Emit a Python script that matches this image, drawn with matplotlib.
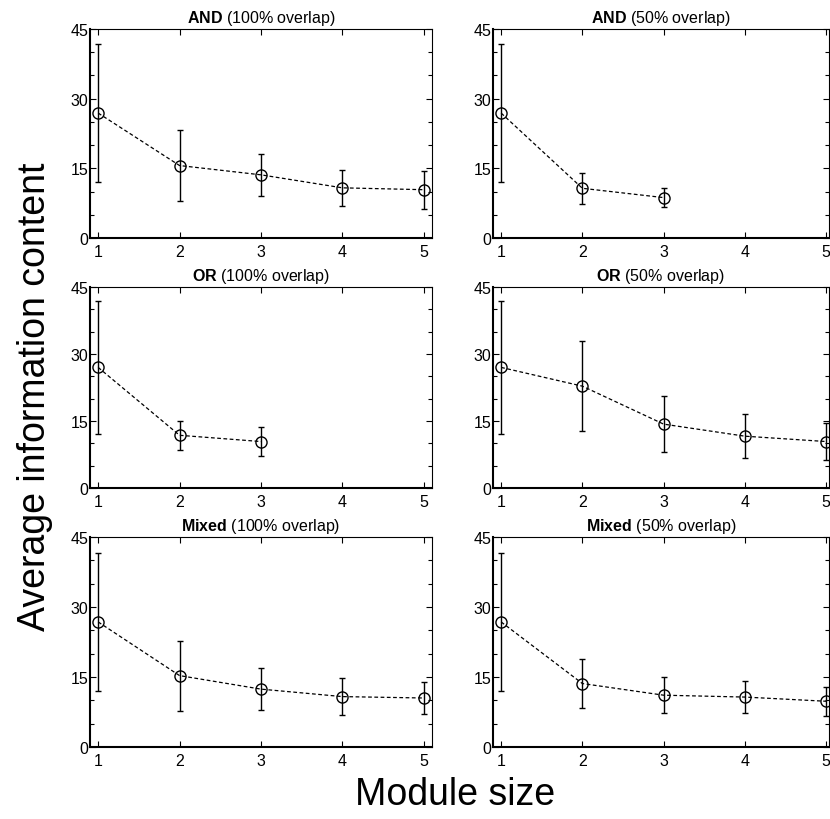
import matplotlib
matplotlib.use("Agg")
import matplotlib.pyplot as plt
from matplotlib.ticker import MultipleLocator

plt.rcParams['font.family'] = ['Liberation Sans', 'DejaVu Sans']
plt.rcParams['mathtext.fontset'] = 'custom'
plt.rcParams['mathtext.rm'] = 'Liberation Sans'
plt.rcParams['mathtext.bf'] = 'Liberation Sans:bold'

# module sizes on the x axis
sizes = [1, 2, 3, 4, 5]

# mean information content and error bar half-widths
and100_mean = [26.9, 15.6, 13.6, 10.8, 10.4]
and100_err = [14.8, 7.6, 4.5, 3.85, 4.05]
and50_mean = [26.9, 10.7, 8.7]
and50_err = [14.8, 3.3, 2.1]
or100_mean = [27.0, 11.8, 10.4]
or100_err = [14.8, 3.3, 3.2]
or50_mean = [27.0, 22.8, 14.3, 11.6, 10.4]
or50_err = [14.8, 10.1, 6.2, 4.9, 4.05]
mixed100_mean = [26.8, 15.3, 12.4, 10.8, 10.5]
mixed100_err = [14.8, 7.5, 4.5, 3.9, 3.5]
mixed50_mean = [26.8, 13.6, 11.1, 10.7, 9.8]
mixed50_err = [14.8, 5.3, 3.85, 3.35, 3.1]

panels = [
    ("AND", "100", and100_mean, and100_err),
    ("AND", "50", and50_mean, and50_err),
    ("OR", "100", or100_mean, or100_err),
    ("OR", "50", or50_mean, or50_err),
    ("Mixed", "100", mixed100_mean, mixed100_err),
    ("Mixed", "50", mixed50_mean, mixed50_err),
]

fig = plt.figure(figsize=(8.3, 8.2), dpi=100)

# axes boxes in pixels (left column x, right column x, row tops/bottoms)
W, H = 830.0, 820.0
col_left = [90, 493]
col_width = [342, 336]
col_xmax = [5.1, 5.035]
rows = [(30, 239), (288, 489), (538, 748)]

for i, (op, ov, mean, err) in enumerate(panels):
    r, c = divmod(i, 2)
    top, bot = rows[r]
    ax = fig.add_axes([col_left[c] / W, 1 - bot / H, col_width[c] / W, (bot - top) / H])
    x = sizes[:len(mean)]
    ax.errorbar(x, mean, yerr=err, fmt='none', ecolor='black', elinewidth=1.0,
                capsize=2.5, capthick=1.0)
    ax.plot(x, mean, linestyle='--', color='black', linewidth=0.9, dashes=(3, 2),
            marker='o', markersize=8, markerfacecolor='none', markeredgecolor='black',
            markeredgewidth=1.0)
    ax.set_xlim(0.9, col_xmax[c])
    ax.set_ylim(0, 45)
    ax.set_xticks(sizes)
    ax.set_yticks([0, 15, 30, 45])
    ax.yaxis.set_minor_locator(MultipleLocator(5))
    ax.tick_params(which='both', direction='in', top=True, right=True,
                   labelsize=11.5)
    ax.tick_params(which='major', length=4, width=0.8)
    ax.tick_params(which='minor', length=3, width=0.8)
    ax.tick_params(axis='x', pad=4)
    ax.tick_params(axis='y', pad=1)
    for side in ['left', 'bottom']:
        ax.spines[side].set_linewidth(1.5)
    for side in ['top', 'right']:
        ax.spines[side].set_linewidth(0.8)
    ax.set_title(r"$\mathbf{%s}$ (%s%% overlap)" % (op, ov), fontsize=11.5, pad=5)

fig.text(0.042, 0.516, "Average information content", rotation=90,
         ha='center', va='center', fontsize=27)
fig.text(0.548, 0.03, "Module size", ha='center', va='center', fontsize=27)

fig.savefig("out.png", dpi=100)
